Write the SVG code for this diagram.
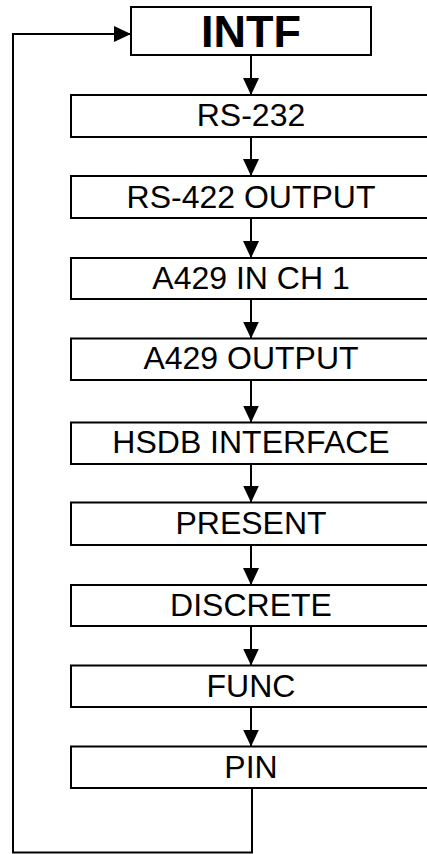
<svg xmlns="http://www.w3.org/2000/svg" width="427" height="854" viewBox="0 0 427 854">
<style>
.box{fill:#fff;stroke:#000;stroke-width:2}
.lbl{font-family:"Liberation Sans",Arial,sans-serif;font-size:32px;text-anchor:middle;fill:#000}
.ttl{font-family:"Liberation Sans",Arial,sans-serif;font-size:45px;font-weight:bold;text-anchor:middle;fill:#000}
.con{fill:none;stroke:#000;stroke-width:2}
</style>
<defs>
<marker id="ah" viewBox="0 0 17 16" refX="17" refY="8" markerWidth="17" markerHeight="16" markerUnits="userSpaceOnUse" orient="auto">
<path d="M0,0 L17,8 L0,16 Z" fill="#000"/>
</marker>
</defs>
<rect width="427" height="854" fill="#fff"/>
<g id="connectors">
<line class="con" x1="251" y1="55" x2="251" y2="95" marker-end="url(#ah)"/>
<line class="con" x1="251" y1="137" x2="251" y2="176" marker-end="url(#ah)"/>
<line class="con" x1="251" y1="218" x2="251" y2="258" marker-end="url(#ah)"/>
<line class="con" x1="251" y1="299" x2="251" y2="338.5" marker-end="url(#ah)"/>
<line class="con" x1="251" y1="380" x2="251" y2="422.5" marker-end="url(#ah)"/>
<line class="con" x1="251" y1="464" x2="251" y2="502.5" marker-end="url(#ah)"/>
<line class="con" x1="251" y1="545" x2="251" y2="585" marker-end="url(#ah)"/>
<line class="con" x1="251" y1="626" x2="251" y2="665.5" marker-end="url(#ah)"/>
<line class="con" x1="251" y1="707" x2="251" y2="746.5" marker-end="url(#ah)"/>
<path class="con" d="M252,788 V852.5 H13 V34 H131" marker-end="url(#ah)"/>
</g>
<g id="intf"><rect class="box" x="131" y="7" width="240" height="48"/><text class="ttl" x="251" y="46.5">INTF</text></g>
<g id="rs232"><rect class="box" x="71" y="95" width="360" height="42"/><text class="lbl" x="251" y="126">RS-232</text></g>
<g id="rs422"><rect class="box" x="71" y="176" width="360" height="42"/><text class="lbl" x="251" y="207.5">RS-422 OUTPUT</text></g>
<g id="a429in"><rect class="box" x="71" y="258" width="360" height="41"/><text class="lbl" x="251" y="289">A429 IN CH 1</text></g>
<g id="a429out"><rect class="box" x="71" y="338.5" width="360" height="41.5"/><text class="lbl" x="251" y="369">A429 OUTPUT</text></g>
<g id="hsdb"><rect class="box" x="71" y="422.5" width="360" height="41.5"/><text class="lbl" x="251" y="452.5">HSDB INTERFACE</text></g>
<g id="present"><rect class="box" x="71" y="502.5" width="360" height="42.5"/><text class="lbl" x="251" y="533.5">PRESENT</text></g>
<g id="discrete"><rect class="box" x="71" y="585" width="360" height="41"/><text class="lbl" x="251" y="615.5">DISCRETE</text></g>
<g id="func"><rect class="box" x="71" y="665.5" width="360" height="41.5"/><text class="lbl" x="251" y="696.5">FUNC</text></g>
<g id="pin"><rect class="box" x="71" y="746.5" width="360" height="41.5"/><text class="lbl" x="251" y="777.5">PIN</text></g>
</svg>
